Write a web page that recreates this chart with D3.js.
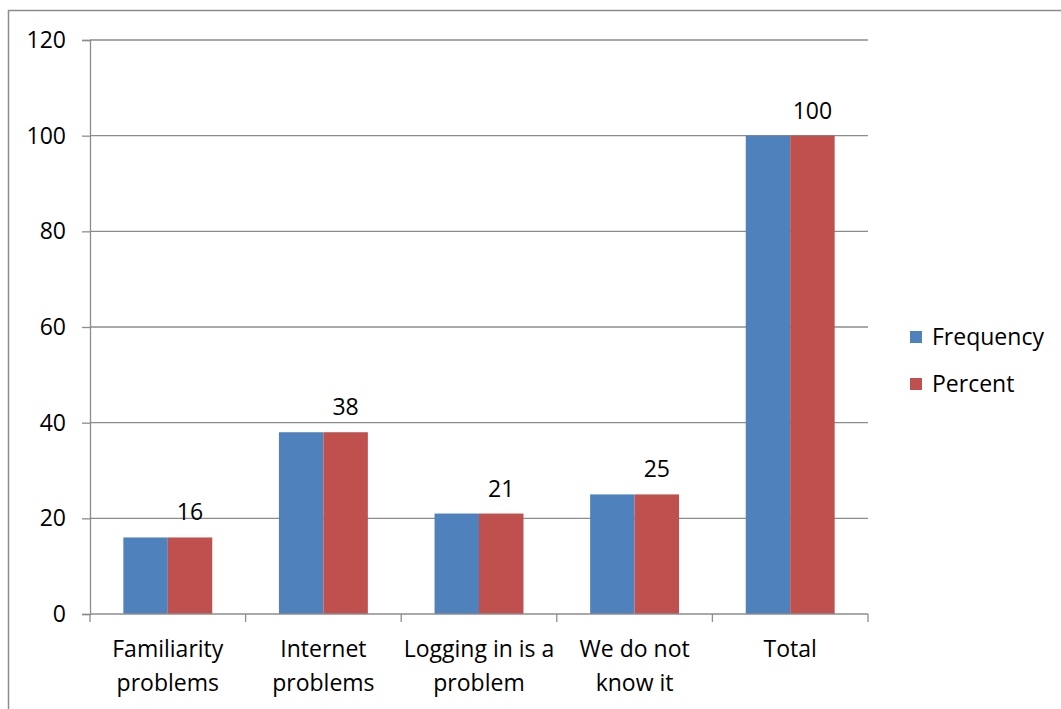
<!DOCTYPE html>
<html>
<head>
<meta charset="utf-8">
<script src="https://cdn.jsdelivr.net/npm/d3@7"></script>
<style>
  html, body { margin: 0; padding: 0; background: #fff; }
  svg { display: block; font-family: "Open Sans", "Noto Sans", sans-serif; }
</style>
</head>
<body>
<svg id="chart" width="1061" height="709"></svg>
<script>
// Reasons for not using the system: frequency and percent per category
const categories = [
  ["Familiarity", "problems"],
  ["Internet", "problems"],
  ["Logging in is a", "problem"],
  ["We do not", "know it"],
  ["Total"]
];
const frequency = [16, 38, 21, 25, 100];
const percent = [16, 38, 21, 25, 100];
const yTicks = [0, 20, 40, 60, 80, 100, 120];
const seriesNames = ["Frequency", "Percent"];
const seriesColors = ["#4f81bd", "#c0504d"];

const svg = d3.select("#chart");
const plot = { left: 90, right: 868, top: 40, bottom: 614 };
const gridColor = "#8c8c8c";
const fontSize = 23;

// Outer chart frame
svg.append("path")
  .attr("d", "M8.5,709 L8.5,10.5 L1061,10.5")
  .attr("fill", "none").attr("stroke", gridColor).attr("stroke-width", 1.5);

const x0 = d3.scaleBand()
  .domain(d3.range(categories.length))
  .range([plot.left, plot.right]);
const x1 = d3.scaleBand()
  .domain([0, 1])
  .range([0, x0.bandwidth()])
  .paddingOuter(0.75);
const y = d3.scaleLinear().domain([0, 120]).range([plot.bottom, plot.top]);

// Horizontal gridlines
svg.append("g").selectAll("line").data(yTicks.filter(t => t > 0)).join("line")
  .attr("x1", plot.left).attr("x2", plot.right)
  .attr("y1", d => y(d)).attr("y2", d => y(d))
  .attr("stroke", gridColor).attr("stroke-width", 1.3);

// Y axis
const yAxis = svg.append("g")
  .attr("transform", `translate(${plot.left},0)`)
  .call(d3.axisLeft(y).tickValues(yTicks).tickSize(8).tickPadding(16));
yAxis.select(".domain").attr("stroke", gridColor).attr("stroke-width", 1.3);
yAxis.selectAll(".tick line").attr("stroke", gridColor).attr("stroke-width", 1.3);
yAxis.selectAll(".tick text")
  .attr("font-size", fontSize).attr("fill", "#000")
  .attr("font-family", "'Open Sans', 'Noto Sans', sans-serif");

// Bars
const groups = svg.append("g").selectAll("g")
  .data(d3.range(categories.length)).join("g")
  .attr("transform", i => `translate(${x0(i)},0)`);

groups.append("rect")
  .attr("x", x1(0)).attr("width", x1.bandwidth())
  .attr("y", i => y(frequency[i])).attr("height", i => y(0) - y(frequency[i]))
  .attr("fill", seriesColors[0]);
groups.append("rect")
  .attr("x", x1(1)).attr("width", x1.bandwidth())
  .attr("y", i => y(percent[i])).attr("height", i => y(0) - y(percent[i]))
  .attr("fill", seriesColors[1]);

// Value labels over the percent bars
groups.append("text")
  .attr("x", x1(1) + x1.bandwidth() / 2)
  .attr("y", i => y(percent[i]) - 17)
  .attr("text-anchor", "middle")
  .attr("font-size", fontSize)
  .text(i => percent[i]);

// X axis line and category ticks
const xAxisG = svg.append("g");
xAxisG.append("line")
  .attr("x1", plot.left).attr("x2", plot.right)
  .attr("y1", y(0)).attr("y2", y(0))
  .attr("stroke", gridColor).attr("stroke-width", 1.3);
const boundaries = d3.range(categories.length + 1).map(i =>
  i < categories.length ? x0(i) : x0(i - 1) + x0.bandwidth());
xAxisG.selectAll("line.tick").data(boundaries).join("line")
  .attr("class", "tick")
  .attr("x1", d => d).attr("x2", d => d)
  .attr("y1", y(0)).attr("y2", y(0) + 8)
  .attr("stroke", gridColor).attr("stroke-width", 1.3);

// Category labels (wrapped)
const catText = xAxisG.selectAll("text.cat").data(categories).join("text")
  .attr("class", "cat")
  .attr("text-anchor", "middle")
  .attr("font-size", fontSize);
catText.each(function(lines, i) {
  const t = d3.select(this);
  lines.forEach((ln, k) => {
    t.append("tspan")
      .attr("x", x0(i) + x0.bandwidth() / 2)
      .attr("y", 657 + k * 34)
      .text(ln);
  });
});

// Legend
const legend = svg.append("g");
seriesNames.forEach((name, i) => {
  const ly = 337 + i * 47;
  legend.append("rect")
    .attr("x", 910).attr("y", ly - 6).attr("width", 12).attr("height", 12)
    .attr("fill", seriesColors[i]);
  legend.append("text")
    .attr("x", 932).attr("y", ly + 8)
    .attr("font-size", fontSize)
    .text(name);
});
</script>
</body>
</html>
